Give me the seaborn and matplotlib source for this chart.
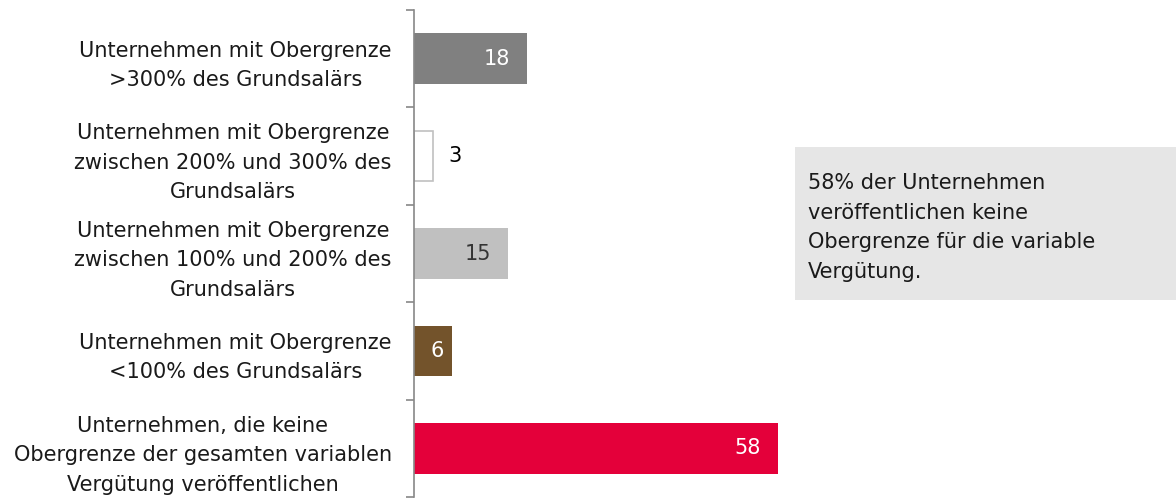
import matplotlib
matplotlib.use("Agg")
import matplotlib.pyplot as plt
import seaborn as sns
import pandas as pd
from matplotlib.patches import Rectangle

categories = [
    "Unternehmen mit Obergrenze\n>300% des Grundsalärs",
    "Unternehmen mit Obergrenze\nzwischen 200% und 300% des\nGrundsalärs",
    "Unternehmen mit Obergrenze\nzwischen 100% und 200% des\nGrundsalärs",
    "Unternehmen mit Obergrenze\n<100% des Grundsalärs",
    "Unternehmen, die keine\nObergrenze der gesamten variablen\nVergütung veröffentlichen",
]
values = [18, 3, 15, 6, 58]
bar_colors = ["#808080", "#ffffff", "#c0c0c0", "#73532b", "#e4003a"]
label_colors = ["white", "black", "#333333", "white", "white"]
note_text = "58% der Unternehmen\nveröffentlichen keine\nObergrenze für die variable\nVergütung."

sns.set_theme(style="white")
plt.rcParams["font.family"] = ["DejaVu Sans"]

df = pd.DataFrame({"cat": categories, "val": values})

fig = plt.figure(figsize=(11.76, 5), dpi=100)
ax = fig.add_axes([414 / 1176, 1 - 497 / 500, 627 / 1176, 487 / 500])

sns.barplot(data=df, y="cat", x="val", hue="cat", palette=bar_colors,
            orient="h", width=0.52, legend=False, ax=ax, saturation=1)

for i, p in enumerate(ax.patches):
    if bar_colors[i] == "#ffffff":
        p.set_edgecolor("#c0c0c0")
        p.set_linewidth(1.2)
    else:
        p.set_edgecolor("none")

ax.set_xlim(0, 100)
ax.set_ylim(len(categories) - 0.5, -0.5)
ax.set_xlabel("")
ax.set_ylabel("")
ax.set_xticks([])

for s in ["top", "right", "bottom"]:
    ax.spines[s].set_visible(False)
ax.spines["left"].set_color("#888888")
ax.spines["left"].set_linewidth(1.2)

ax.set_yticks(range(len(categories)))
ax.set_yticklabels(categories, fontsize=15, color="#1a1a1a",
                   multialignment="center", linespacing=1.6)
ax.tick_params(axis="y", which="major", length=0, pad=16)
ax.set_yticks([i - 0.5 for i in range(len(categories) + 1)], minor=True)
ax.tick_params(axis="y", which="minor", length=6, width=1.2, color="#888888", direction="out", left=True)

# value labels
for i, v in enumerate(values):
    if v < 5:
        ax.annotate(str(v), (v, i), xytext=(11, 0), textcoords="offset points",
                    ha="left", va="center", fontsize=15, color=label_colors[i])
    elif v < 10:
        ax.annotate(str(v), (v / 2, i), xytext=(3, 0), textcoords="offset points",
                    ha="center", va="center", fontsize=15, color=label_colors[i])
    else:
        ax.annotate(str(v), (v, i), xytext=(-12, 0), textcoords="offset points",
                    ha="right", va="center", fontsize=15, color=label_colors[i])

fig.patches.append(Rectangle((795 / 1176, 1 - 300 / 500), 381 / 1176, 153 / 500,
                             transform=fig.transFigure, facecolor="#e6e6e6",
                             edgecolor="none", zorder=0))
fig.text(808 / 1176, 1 - 173 / 500, note_text, ha="left", va="top",
         fontsize=15, color="#1a1a1a", linespacing=1.6)

fig.savefig("out.png", dpi=100)
